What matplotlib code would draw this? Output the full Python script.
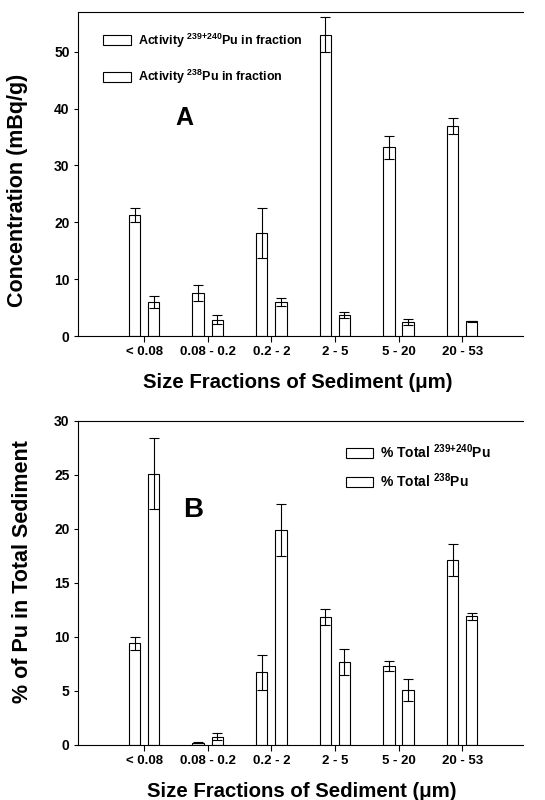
import numpy as np
import matplotlib
matplotlib.use("Agg")
import matplotlib.pyplot as plt

plt.rcParams["font.family"] = ["Liberation Sans", "DejaVu Sans"]
plt.rcParams["font.weight"] = "bold"
plt.rcParams["mathtext.fontset"] = "custom"
plt.rcParams["mathtext.rm"] = "Liberation Sans:bold"
plt.rcParams["mathtext.it"] = "Liberation Sans:bold"
plt.rcParams["mathtext.bf"] = "Liberation Sans:bold"
plt.rcParams["mathtext.default"] = "rm"

categories = ["< 0.08", "0.08 - 0.2", "0.2 - 2", "2 - 5", "5 - 20", "20 - 53"]

# panel A: activity in fraction (mBq/g)
act_pu239 = [21.3, 7.6, 18.2, 53.0, 33.2, 36.9]
act_pu239_err = [1.3, 1.4, 4.4, 3.1, 2.0, 1.4]
act_pu238 = [6.0, 2.9, 5.9, 3.7, 2.5, 2.6]
act_pu238_err = [1.0, 0.8, 0.7, 0.6, 0.5, 0.1]

# panel B: % of total Pu in sediment
pct_pu239 = [9.4, 0.2, 6.7, 11.8, 7.3, 17.1]
pct_pu239_err = [0.6, 0.05, 1.6, 0.75, 0.5, 1.5]
pct_pu238 = [25.1, 0.75, 19.9, 7.7, 5.05, 11.9]
pct_pu238_err = [3.3, 0.3, 2.4, 1.2, 1.0, 0.3]

W = 0.18
OFF = 0.15
EB = dict(fmt="none", ecolor="black", elinewidth=0.8, capsize=3.6, capthick=0.8)


def panel(ax, v1, e1, v2, e2, ymax, yticks, ylabel):
    x = np.arange(len(categories))
    b1 = ax.bar(x - OFF, v1, W, facecolor="white", edgecolor="black", linewidth=0.8)
    b2 = ax.bar(x + OFF, v2, W, facecolor="white", edgecolor="black", linewidth=0.8)
    ax.errorbar(x - OFF, v1, yerr=e1, **EB)
    ax.errorbar(x + OFF, v2, yerr=e2, **EB)
    ax.set_xlim(-1.04, 5.96)
    ax.set_ylim(0, ymax)
    ax.set_xticks(x)
    ax.set_xticklabels(categories, fontsize=9.5, fontweight="bold")
    ax.set_yticks(yticks)
    ax.tick_params(axis="y", labelsize=10, length=3, width=0.8, pad=3)
    ax.tick_params(axis="x", length=4, width=0.8, pad=3)
    for s in ["left", "bottom", "top"]:
        ax.spines[s].set_linewidth(0.8)
    ax.spines["right"].set_visible(False)
    ax.set_ylabel(ylabel, fontsize=15.5, fontweight="bold")
    ax.set_xlabel("Size Fractions of Sediment (\u03bcm)", fontsize=14.7, fontweight="bold")
    return b1, b2


fig = plt.figure(figsize=(5.45, 8.0), dpi=100)

# A: concentration
axA = fig.add_axes([0.143, 0.58, 0.817, 0.405])
b1, b2 = panel(axA, act_pu239, act_pu239_err, act_pu238, act_pu238_err, 57,
               [0, 10, 20, 30, 40, 50], "Concentration (mBq/g)")
axA.yaxis.set_label_coords(-0.112, 0.448)
axA.xaxis.set_label_coords(0.494, -0.113)
axA.legend([b1, b2], [r"Activity $^{239{+}240}$Pu in fraction", r"Activity $^{238}$Pu in fraction"],
           loc="upper left", bbox_to_anchor=(0.045, 0.955), frameon=False,
           fontsize=9, handlelength=2.25, handleheight=0.85, handletextpad=0.55,
           labelspacing=1.45, borderaxespad=0)
axA.text(0.238, 0.673, "A", transform=axA.transAxes, ha="center", va="center",
         fontsize=18, fontweight="bold")

# B: percent of total
axB = fig.add_axes([0.143, 0.069, 0.817, 0.405])
c1, c2 = panel(axB, pct_pu239, pct_pu239_err, pct_pu238, pct_pu238_err, 30,
               [0, 5, 10, 15, 20, 25, 30], "% of Pu in Total Sediment")
axB.yaxis.set_label_coords(-0.101, 0.534)
axB.xaxis.set_label_coords(0.503, -0.115)
axB.legend([c1, c2], [r"% Total $^{239{+}240}$Pu", r"% Total $^{238}$Pu"],
           loc="upper left", bbox_to_anchor=(0.589, 0.952), frameon=False,
           fontsize=10, handlelength=1.95, handleheight=0.75, handletextpad=0.5,
           labelspacing=0.8, borderaxespad=0)
axB.text(0.258, 0.725, "B", transform=axB.transAxes, ha="center", va="center",
         fontsize=20, fontweight="bold")

fig.savefig("out.png", dpi=100, facecolor="white")
